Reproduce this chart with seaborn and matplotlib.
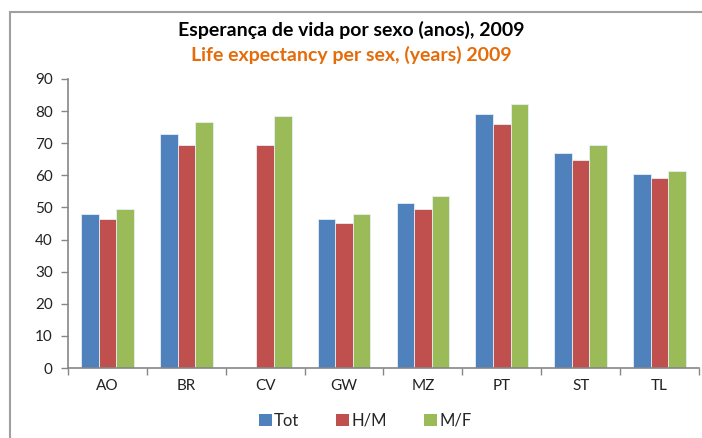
import matplotlib
matplotlib.use("Agg")
import matplotlib.pyplot as plt
import matplotlib.patches as mpatches
import numpy as np
import pandas as pd
import seaborn as sns

countries = ["AO", "BR", "CV", "GW", "MZ", "PT", "ST", "TL"]
tot = [48.0, 72.8, np.nan, 46.4, 51.5, 79.1, 66.9, 60.4]
hm = [46.4, 69.3, 69.3, 45.3, 49.6, 75.9, 64.7, 59.3]
mf = [49.6, 76.7, 78.6, 48.0, 53.7, 82.1, 69.6, 61.5]
series = ["Tot", "H/M", "M/F"]
colors = ["#4F81BD", "#C0504D", "#9BBB59"]

df = pd.DataFrame({"pais": countries, "Tot": tot, "H/M": hm, "M/F": mf})
long = df.melt(id_vars="pais", var_name="serie", value_name="anos")

sns.set_style("white")
plt.rcParams["font.family"] = ["Lato", "DejaVu Sans"]

fig = plt.figure(figsize=(7.02, 4.38), dpi=100)
ax = fig.add_axes([68 / 702, 1 - 368 / 438, 631 / 702, 289 / 438])

sns.barplot(data=long, x="pais", y="anos", hue="serie", hue_order=series,
            palette=colors, width=0.67, saturation=1, ax=ax,
            edgecolor="#E6EEF5", linewidth=0.6, legend=False)

ax.set_ylim(0, 90)
ax.set_yticks(range(0, 91, 10))
ax.set_xlim(-0.5, len(countries) - 0.5)
ax.set_xlabel("")
ax.set_ylabel("")

gray = "#868686"
for side in ["top", "right"]:
    ax.spines[side].set_visible(False)
for side in ["left", "bottom"]:
    ax.spines[side].set_color(gray)
    ax.spines[side].set_linewidth(1.2)

ax.tick_params(axis="y", direction="out", length=5, width=1, color=gray,
               labelsize=11, labelcolor="#222222", pad=6, left=True)
ax.tick_params(axis="x", which="major", length=0, labelsize=11,
               labelcolor="#222222", pad=8)
ax.set_xticks(np.arange(-0.5, len(countries), 1), minor=True)
ax.tick_params(axis="x", which="minor", direction="out", length=5, width=1,
               color=gray, bottom=True)

fig.text(0.5, 1 - 35.5 / 438, "Esperança de vida por sexo (anos), 2009",
         ha="center", va="baseline", fontsize=14, fontweight="bold", color="black")
fig.text(0.5, 1 - 60.5 / 438, "Life expectancy per sex, (years) 2009",
         ha="center", va="baseline", fontsize=14, fontweight="bold", color="#E46C0A")

handles = [mpatches.Patch(facecolor=c, edgecolor="none", label=s)
           for c, s in zip(colors, series)]
fig.legend(handles=handles, loc="center", bbox_to_anchor=(365 / 702, 1 - 421 / 438),
           ncol=3, frameon=False, fontsize=12, handlelength=0.78,
           handleheight=0.78, handletextpad=0.15, columnspacing=2.2)

# chart frame (left and top edges visible)
frame = mpatches.Rectangle((10 / 702, -0.1), 1.2, 1.1 - 12 / 438,
                           transform=fig.transFigure, fill=False,
                           edgecolor="#A0A0A0", linewidth=1.5, clip_on=False)
fig.patches.append(frame)

fig.savefig("out.png", dpi=100)
